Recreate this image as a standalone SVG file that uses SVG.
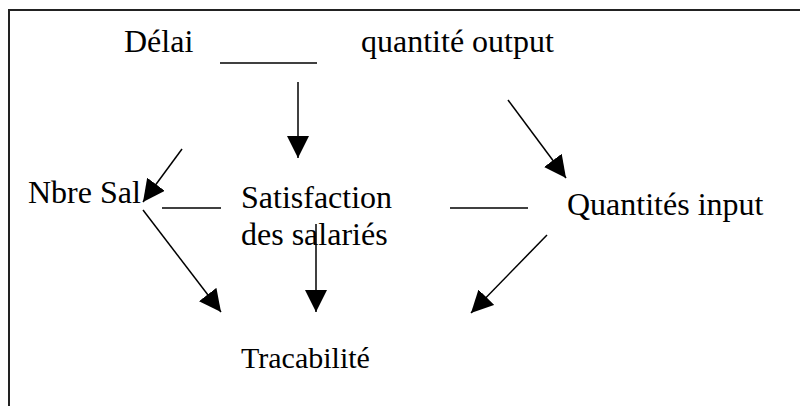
<svg xmlns="http://www.w3.org/2000/svg" width="800" height="406" viewBox="0 0 800 406">
<style>
  .t { font-family: "Liberation Serif", "Times New Roman", serif; font-size: 32px; fill: #000; }
  .c { stroke: #000; stroke-width: 1.5; fill: none; }
  .b { stroke: #222; stroke-width: 2; fill: none; }
</style>
<defs>
  <marker id="ah" markerUnits="userSpaceOnUse" markerWidth="22" markerHeight="22" refX="20" refY="10" orient="auto" viewBox="0 0 20 20">
    <path d="M0,0 L20,10 L0,20 z" fill="#000"/>
  </marker>
</defs>
<rect width="800" height="406" fill="#fff"/>
<path class="b" d="M9,406 L9,10 L800,10"/>
<g id="delai"><text class="t" x="124" y="52">Délai</text></g>
<g id="quantite-output"><text class="t" x="361" y="52">quantité output</text></g>
<g id="nbre-sal"><text class="t" x="28" y="203">Nbre Sal</text></g>
<g id="satisfaction"><text class="t" x="241" y="208">Satisfaction</text><text class="t" x="241" y="245">des salariés</text></g>
<g id="quantites-input"><text class="t" x="567" y="215">Quantités input</text></g>
<g id="tracabilite"><text class="t" x="241" y="368" style="font-size:30px">Tracabilité</text></g>
<g id="connectors">
  <line class="c" x1="220" y1="63" x2="317" y2="63"/>
  <line class="c" x1="298" y1="82" x2="298" y2="158" marker-end="url(#ah)"/>
  <line class="c" x1="182" y1="149" x2="143" y2="202" marker-end="url(#ah)"/>
  <line class="c" x1="162" y1="208" x2="221" y2="208"/>
  <line class="c" x1="143" y1="210" x2="221" y2="312" marker-end="url(#ah)"/>
  <line class="c" x1="316" y1="224" x2="316" y2="312" marker-end="url(#ah)"/>
  <line class="c" x1="450" y1="208" x2="528" y2="208"/>
  <line class="c" x1="508" y1="100" x2="566" y2="178" marker-end="url(#ah)"/>
  <line class="c" x1="547" y1="235" x2="471" y2="313" marker-end="url(#ah)"/>
</g>
</svg>
